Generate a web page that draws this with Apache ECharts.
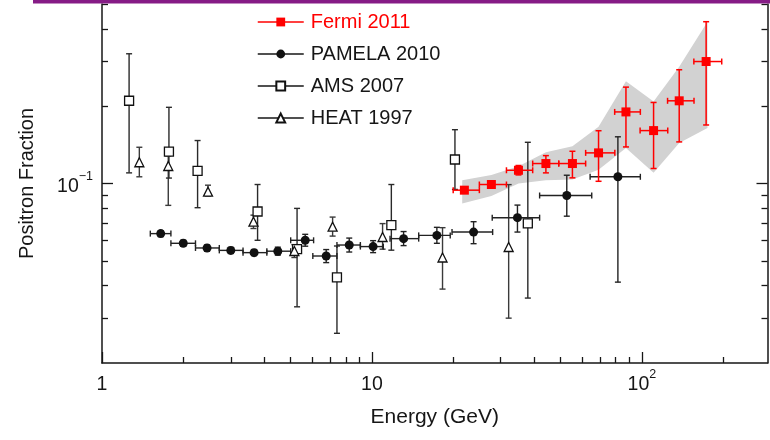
<!DOCTYPE html>
<html>
<head>
<meta charset="utf-8">
<script src="https://cdn.jsdelivr.net/npm/echarts@6/dist/echarts.min.js"></script>
<style>
  html, body { margin: 0; padding: 0; background: #ffffff; }
  #chart { width: 770px; height: 440px; }
</style>
</head>
<body>
<div id="chart"></div>
<script>
// ---- Fermi 2011 (red squares) ----
const fermiEnergy     = [22.0, 27.7, 34.9, 44.1, 55.3, 69.1, 87.3, 110.5, 137.5, 173];
const fermiEnergyLow  = [20.0, 25.0, 31.5, 39.4, 49.2, 61.9, 79.3, 98.5, 124.5, 155.8];
const fermiEnergyHigh = [25.0, 31.5, 39.4, 49.2, 61.9, 79.4, 98.7, 124.7, 156, 197.6];
const fermiFrac       = [0.0942, 0.0991, 0.1126, 0.1196, 0.1196, 0.1316, 0.190, 0.1607, 0.2099, 0.2985];
const fermiFracLow    = [0.0918, 0.0966, 0.108, 0.110, 0.1052, 0.102, 0.1388, 0.1144, 0.1452, 0.169];
const fermiFracHigh   = [0.0967, 0.1016, 0.1175, 0.1284, 0.1335, 0.1605, 0.2373, 0.2068, 0.2773, 0.4266];

// Fermi systematic uncertainty band
const bandEnergy = [21.6, 27.7, 34.9, 44.1, 55.3, 69.1, 87.3, 110.5, 137.5, 175];
const bandLow    = [0.0835, 0.0893, 0.100, 0.103, 0.1036, 0.113, 0.1376, 0.110, 0.1439, 0.1645];
const bandHigh   = [0.103, 0.108, 0.1167, 0.1323, 0.1396, 0.1665, 0.250, 0.2088, 0.285, 0.4266];

// ---- PAMELA 2010 (filled circles) ----
const pamelaEnergy     = [1.65, 2.0, 2.45, 3.0, 3.66, 4.48, 5.66, 6.77, 8.24, 10.1, 13.1, 17.4, 23.8, 34.6, 52.7, 81.5];
const pamelaEnergyLow  = [1.51, 1.80, 2.22, 2.72, 3.33, 4.08, 5.0, 6.04, 7.42, 9.06, 11.67, 14.9, 19.8, 27.9, 41.8, 64.3];
const pamelaEnergyHigh = [1.80, 2.22, 2.72, 3.33, 4.08, 5.0, 6.08, 7.42, 9.06, 11.02, 14.9, 19.5, 28.0, 41.8, 65.2, 98.7];
const pamelaFrac       = [0.0638, 0.0585, 0.0561, 0.0549, 0.0538, 0.0545, 0.0601, 0.0522, 0.0576, 0.0568, 0.061, 0.0628, 0.0647, 0.0736, 0.0898, 0.1062];
const pamelaFracLow    = [0.0621, 0.0570, 0.0546, 0.0534, 0.0524, 0.0526, 0.0570, 0.0492, 0.0541, 0.0538, 0.0573, 0.0585, 0.0583, 0.0647, 0.0746, 0.0413];
const pamelaFracHigh   = [0.0655, 0.0601, 0.0576, 0.0564, 0.0553, 0.0565, 0.0634, 0.0553, 0.0613, 0.0599, 0.065, 0.0675, 0.071, 0.0824, 0.1077, 0.152];

// ---- AMS 2007 (open squares) ----
const amsEnergy  = [1.26, 1.77, 2.26, 3.77, 5.28, 7.42, 11.8, 20.3, 37.8];
const amsFrac    = [0.210, 0.133, 0.112, 0.0778, 0.0555, 0.0431, 0.0689, 0.124, 0.070];
const amsFracLow = [0.110, 0.105, 0.0805, 0.0601, 0.0331, 0.0261, 0.0550, 0.0948, 0.0358];
const amsFracHigh= [0.320, 0.198, 0.147, 0.0991, 0.080, 0.0571, 0.0991, 0.162, 0.1447];

// ---- HEAT 1997 (open triangles) ----
const heatEnergy  = [1.375, 1.76, 2.47, 3.64, 5.16, 7.15, 10.95, 18.26, 32.1];
const heatFrac    = [0.121, 0.117, 0.0929, 0.071, 0.0546, 0.0679, 0.0619, 0.0515, 0.0566];
const heatFracLow = [0.1062, 0.0822, 0.0893, 0.0668, 0.0515, 0.0624, 0.0555, 0.0388, 0.0299];
const heatFracHigh= [0.1384, 0.128, 0.0985, 0.0753, 0.0578, 0.074, 0.0698, 0.0673, 0.099];

// ---- axis ticks ----
const xMajorTicks = [1, 10, 100];
const xMinorTicks = [2, 3, 4, 5, 6, 7, 8, 9, 20, 30, 40, 50, 60, 70, 80, 90, 200];
const yMajorTicks = [0.1];
const yMinorTicks = [0.03, 0.04, 0.05, 0.06, 0.07, 0.08, 0.09, 0.2, 0.3, 0.4, 0.5];

const FONT = '"Liberation Sans", Arial, Helvetica, sans-serif';
const INK = '#161616';
const X_MIN = 1, X_MAX = 292, Y_MIN = 0.02, Y_MAX = 0.5;

function powerLabel(v) {
  const e = Math.round(Math.log10(v));
  if (e === 0) return '{b|1}';
  if (e === 1) return '{b|10}';
  return '{b|10}{s|' + String(e).replace('-', '\u2212') + '}';
}
const labelRich = {
  b: { fontSize: 19.5, fontFamily: FONT, color: INK, padding: [7, 0, 0, 0] },
  s: { fontSize: 12.5, fontFamily: FONT, color: INK, verticalAlign: 'top' }
};

function errorBars(color, width) {
  return function (params, api) {
    const x = api.value(0), y = api.value(1);
    const xl = api.value(2), xh = api.value(3), yl = api.value(4), yh = api.value(5);
    const c = api.coord([x, y]);
    const lo = api.coord([x, yl]), hi = api.coord([x, yh]);
    const cap = 3;
    const style = { stroke: color, lineWidth: width };
    const kids = [
      { type: 'line', shape: { x1: c[0], y1: lo[1], x2: c[0], y2: hi[1] }, style },
      { type: 'line', shape: { x1: c[0] - cap, y1: lo[1], x2: c[0] + cap, y2: lo[1] }, style },
      { type: 'line', shape: { x1: c[0] - cap, y1: hi[1], x2: c[0] + cap, y2: hi[1] }, style }
    ];
    if (xl !== xh) {
      const l = api.coord([xl, y]), r = api.coord([xh, y]);
      kids.push(
        { type: 'line', shape: { x1: l[0], y1: c[1], x2: r[0], y2: c[1] }, style },
        { type: 'line', shape: { x1: l[0], y1: c[1] - cap, x2: l[0], y2: c[1] + cap }, style },
        { type: 'line', shape: { x1: r[0], y1: c[1] - cap, x2: r[0], y2: c[1] + cap }, style }
      );
    }
    return { type: 'group', children: kids };
  };
}

function barData(en, enLo, enHi, fr, frLo, frHi) {
  return en.map((e, i) => [e, fr[i], enLo ? enLo[i] : e, enHi ? enHi[i] : e, frLo[i], frHi[i]]);
}
function pointData(en, fr) { return en.map((e, i) => [e, fr[i]]); }

function errorSeries(data, color, width, z) {
  return {
    type: 'custom', xAxisIndex: 0, yAxisIndex: 0, z: z, silent: true,
    renderItem: errorBars(color, width),
    encode: { x: [0, 2, 3], y: [1, 4, 5] },
    data: data
  };
}
function markerSeries(name, data, symbol, fill, stroke, z) {
  return {
    name: name, type: 'line', xAxisIndex: 0, yAxisIndex: 0, z: z,
    data: data, symbol: symbol, symbolSize: 9, showSymbol: true,
    lineStyle: { opacity: 0, color: stroke, width: 1.5 },
    itemStyle: { color: fill, borderColor: stroke, borderWidth: fill === '#ffffff' ? 1.3 : 0, opacity: 1 },
    emphasis: { disabled: true },
    animation: false
  };
}

const baseX = { type: 'log', logBase: 10, min: X_MIN, max: X_MAX, splitLine: { show: false } };
const baseY = { type: 'log', logBase: 10, min: Y_MIN, max: Y_MAX, splitLine: { show: false } };
const axisLine = { show: true, lineStyle: { color: INK, width: 1.5 } };

const chart = echarts.init(document.getElementById('chart'), null, { renderer: 'canvas' });
chart.setOption({
  animation: false,
  backgroundColor: '#ffffff',
  grid: { left: 102, right: 2.5, top: 4, bottom: 77 },
  graphic: [{
    type: 'rect', left: 33, top: 0, z: 100,
    shape: { width: 737, height: 3.5 }, style: { fill: '#861c86' }
  }],
  legend: {
    orient: 'vertical', left: 252, top: 7,
    itemWidth: 46, itemHeight: 11, itemGap: 12,
    selectedMode: false,
    textStyle: { fontSize: 20, fontFamily: FONT, color: INK, lineHeight: 20, padding: [0, 0, 0, 2] },
    data: [
      { name: 'Fermi 2011', textStyle: { color: '#ff0000' }, lineStyle: { color: '#ff0000', width: 1.5, opacity: 1 } },
      { name: 'PAMELA 2010', lineStyle: { color: INK, width: 1.5, opacity: 1 } },
      { name: 'AMS 2007', lineStyle: { color: INK, width: 1.5, opacity: 1 } },
      { name: 'HEAT 1997', lineStyle: { color: INK, width: 1.5, opacity: 1 } }
    ]
  },
  xAxis: [
    Object.assign({}, baseX, {
      position: 'bottom',
      name: 'Energy (GeV)', nameLocation: 'middle', nameGap: 44,
      nameTextStyle: { fontSize: 21, fontFamily: FONT, color: INK },
      axisLine: axisLine,
      axisTick: { show: true, inside: true, length: 11, customValues: xMajorTicks, lineStyle: { color: INK, width: 1.3 } },
      axisLabel: { show: true, margin: 5, customValues: xMajorTicks, formatter: powerLabel, rich: labelRich, showMinLabel: true, showMaxLabel: true }
    }),
    Object.assign({}, baseX, {
      position: 'bottom',
      axisLine: { show: false },
      axisTick: { show: true, inside: true, length: 6, customValues: xMinorTicks, lineStyle: { color: INK, width: 1.3 } },
      axisLabel: { show: false }
    })
  ],
  yAxis: [
    Object.assign({}, baseY, {
      position: 'left',
      name: 'Positron Fraction', nameLocation: 'middle', nameGap: 65,
      nameTextStyle: { fontSize: 20, fontFamily: FONT, color: INK },
      axisLine: axisLine,
      axisTick: { show: true, inside: true, length: 11, customValues: yMajorTicks, lineStyle: { color: INK, width: 1.3 } },
      axisLabel: { show: true, margin: 9, customValues: yMajorTicks, formatter: powerLabel, rich: labelRich }
    }),
    Object.assign({}, baseY, {
      position: 'left',
      axisLine: { show: false },
      axisTick: { show: true, inside: true, length: 6, customValues: yMinorTicks, lineStyle: { color: INK, width: 1.3 } },
      axisLabel: { show: false }
    }),
    Object.assign({}, baseY, {
      position: 'right',
      axisLine: axisLine,
      axisTick: { show: true, inside: true, length: 11, customValues: yMajorTicks, lineStyle: { color: INK, width: 1.3 } },
      axisLabel: { show: false }
    }),
    Object.assign({}, baseY, {
      position: 'right',
      axisLine: { show: false },
      axisTick: { show: true, inside: true, length: 6, customValues: yMinorTicks, lineStyle: { color: INK, width: 1.3 } },
      axisLabel: { show: false }
    })
  ],
  series: [
    {
      type: 'custom', xAxisIndex: 0, yAxisIndex: 0, z: 1, silent: true,
      encode: { x: 0, y: [1, 2] },
      data: bandEnergy.map((e, i) => [e, bandLow[i], bandHigh[i]]),
      renderItem: function (params, api) {
        if (params.dataIndex !== 0) return null;
        const pts = [];
        for (let i = 0; i < bandEnergy.length; i++) pts.push(api.coord([bandEnergy[i], bandHigh[i]]));
        for (let i = bandEnergy.length - 1; i >= 0; i--) pts.push(api.coord([bandEnergy[i], bandLow[i]]));
        return { type: 'polygon', shape: { points: pts }, style: { fill: '#d2d2d2' } };
      }
    },
    errorSeries(barData(heatEnergy, null, null, heatFrac, heatFracLow, heatFracHigh), '#3a3a3a', 1.4, 2),
    errorSeries(barData(amsEnergy, null, null, amsFrac, amsFracLow, amsFracHigh), '#2a2a2a', 1.4, 2),
    errorSeries(barData(pamelaEnergy, pamelaEnergyLow, pamelaEnergyHigh, pamelaFrac, pamelaFracLow, pamelaFracHigh), '#222222', 1.4, 2),
    errorSeries(barData(fermiEnergy, fermiEnergyLow, fermiEnergyHigh, fermiFrac, fermiFracLow, fermiFracHigh), '#ff0000', 1.5, 3),
    markerSeries('Fermi 2011', pointData(fermiEnergy, fermiFrac), 'rect', '#ff0000', '#ff0000', 6),
    markerSeries('PAMELA 2010', pointData(pamelaEnergy, pamelaFrac), 'circle', '#111111', '#111111', 5),
    markerSeries('AMS 2007', pointData(amsEnergy, amsFrac), 'rect', '#ffffff', '#111111', 5),
    markerSeries('HEAT 1997', pointData(heatEnergy, heatFrac), 'triangle', '#ffffff', '#111111', 5)
  ]
});
</script>
</body>
</html>
